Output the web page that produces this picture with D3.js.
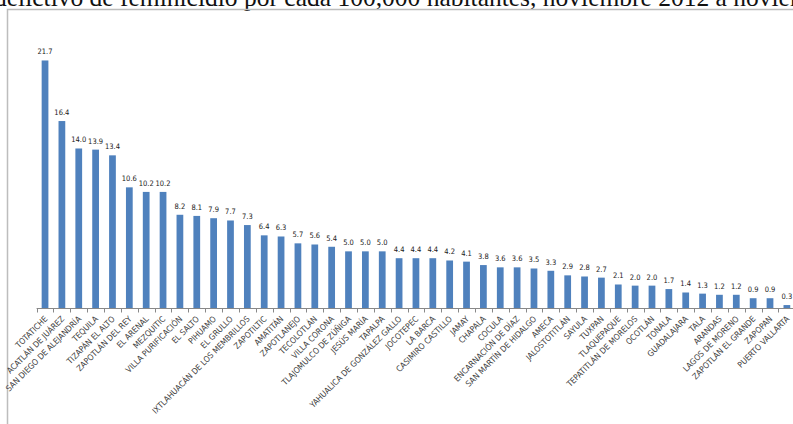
<!DOCTYPE html>
<html>
<head>
<meta charset="utf-8">
<script src="https://cdn.jsdelivr.net/npm/d3@7"></script>
<style>
  body { margin: 0; background: #fff; overflow: hidden; }
  svg { display: block; }
</style>
</head>
<body>
<div id="chart"></div>
<script>
const titleText = "delictivo de feminicidio por cada 100,000 habitantes, noviembre 2012 a noviembre 2013";

const municipios = [
  "TOTATICHE", "ACATLÁN DE JUÁREZ", "SAN DIEGO DE ALEJANDRÍA", "TEQUILA", "TIZAPÁN EL ALTO",
  "ZAPOTLÁN DEL REY", "EL ARENAL", "MEZQUITIC", "VILLA PURIFICACIÓN", "EL SALTO",
  "PIHUAMO", "EL GRULLO", "IXTLAHUACÁN DE LOS MEMBRILLOS", "ZAPOTILTIC", "AMATITÁN",
  "ZAPOTLANEJO", "TECOLOTLÁN", "VILLA CORONA", "TLAJOMULCO DE ZÚÑIGA", "JESÚS MARÍA",
  "TAPALPA", "YAHUALICA DE GONZÁLEZ GALLO", "JOCOTEPEC", "LA BARCA", "CASIMIRO CASTILLO",
  "JAMAY", "CHAPALA", "COCULA", "ENCARNACIÓN DE DÍAZ", "SAN MARTÍN DE HIDALGO",
  "AMECA", "JALOSTOTITLÁN", "SAYULA", "TUXPAN", "TLAQUEPAQUE",
  "TEPATITLÁN DE MORELOS", "OCOTLÁN", "TONALA", "GUADALAJARA", "TALA",
  "ARANDAS", "LAGOS DE MORENO", "ZAPOTLÁN EL GRANDE", "ZAPOPAN", "PUERTO VALLARTA"
];

const tasas = [
  21.7, 16.4, 14.0, 13.9, 13.4,
  10.6, 10.2, 10.2, 8.2, 8.1,
  7.9, 7.7, 7.3, 6.4, 6.3,
  5.7, 5.6, 5.4, 5.0, 5.0,
  5.0, 4.4, 4.4, 4.4, 4.2,
  4.1, 3.8, 3.6, 3.6, 3.5,
  3.3, 2.9, 2.8, 2.7, 2.1,
  2.0, 2.0, 1.7, 1.4, 1.3,
  1.2, 1.2, 0.9, 0.9, 0.3
];

const width = 793, height = 424;
const baseY = 308.5;
const narrow = "'Liberation Sans Narrow', 'DejaVu Sans Condensed', 'Liberation Sans', sans-serif";

const svg = d3.select("#chart").append("svg")
  .attr("width", width)
  .attr("height", height);

// page title, cut off by the top of the window like in the source screenshot
svg.append("text")
  .attr("x", -6)
  .attr("y", 6)
  .attr("font-family", "'Liberation Serif', 'Times New Roman', serif")
  .attr("font-size", 25.5)
  .attr("fill", "#111")
  .text(titleText);

// chart frame (only left and top edges show)
svg.append("path")
  .attr("d", "M7.5," + height + "V9.5H" + width)
  .attr("fill", "none")
  .attr("stroke", "#bdbdbd")
  .attr("stroke-width", 1.5);

const data = municipios.map((m, i) => ({ name: m, value: tasas[i] }));

const x = d3.scaleBand()
  .domain(municipios)
  .range([36.6, 795.3])
  .paddingInner(0.6)
  .paddingOuter(0.3);

const y = d3.scaleLinear()
  .domain([0, 25])
  .range([baseY, baseY - 25 * 11.43]);

const g = svg.append("g");

g.selectAll("rect.bar")
  .data(data)
  .enter().append("rect")
    .attr("class", "bar")
    .attr("x", d => x(d.name))
    .attr("y", d => y(d.value))
    .attr("width", x.bandwidth())
    .attr("height", d => baseY - y(d.value))
    .attr("fill", "#4f81bd");

g.selectAll("text.val")
  .data(data)
  .enter().append("text")
    .attr("class", "val")
    .attr("x", d => x(d.name) + x.bandwidth() / 2)
    .attr("y", d => y(d.value) - 6)
    .attr("text-anchor", "middle")
    .attr("font-family", narrow)
    .attr("font-size", 7.5)
    .attr("fill", "#1a1a1a")
    .text(d => d3.format(".1f")(d.value));

// category axis: line + ticks at band edges
const step = x.step();
const x0 = x.range()[0];
const axis = svg.append("g");
axis.append("line")
  .attr("x1", x0).attr("x2", width)
  .attr("y1", baseY).attr("y2", baseY)
  .attr("stroke", "#888").attr("stroke-width", 1);

axis.selectAll("line.tick")
  .data(d3.range(municipios.length + 1))
  .enter().append("line")
    .attr("class", "tick")
    .attr("x1", i => Math.round(x0 + i * step) + 0.5)
    .attr("x2", i => Math.round(x0 + i * step) + 0.5)
    .attr("y1", baseY)
    .attr("y2", baseY + 4)
    .attr("stroke", "#888");

axis.selectAll("text.cat")
  .data(data)
  .enter().append("text")
    .attr("class", "cat")
    .attr("text-anchor", "end")
    .attr("transform", d => "translate(" + (x(d.name) + x.bandwidth() / 2 + 3) + "," + (baseY + 11) + ") rotate(-45)")
    .attr("font-family", narrow)
    .attr("font-size", 8.3)
    .attr("fill", "#404040")
    .text(d => d.name);
</script>
</body>
</html>
